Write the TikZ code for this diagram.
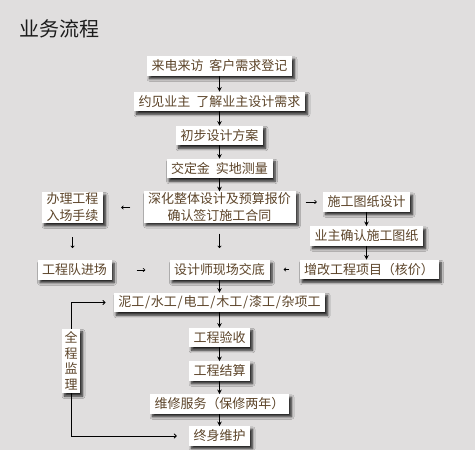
\documentclass[tikz,border=0pt]{standalone}
\usepackage{fontspec}
\setmainfont{Noto Sans CJK SC}
\usetikzlibrary{arrows.meta,shadows.blur}
\definecolor{bgc}{HTML}{E0DEDE}
\definecolor{txtc}{HTML}{5C4429}
\definecolor{ttlc}{HTML}{1C1C1C}
\newcommand{\wgap}{\hspace{6pt}}
\newcommand{\wsl}{\kern0.8pt/\kern0.8pt}
\tikzset{
  box/.style={fill=white, text=txtc, font=\fontsize{13}{17}\selectfont,
    inner xsep=4.5pt, inner ysep=2pt, minimum height=19.5pt, align=center,
    blur shadow={shadow xshift=2.5pt, shadow yshift=-3pt, shadow blur steps=6, shadow blur radius=2.5pt, shadow opacity=85}},
  flow/.style={draw=black, line width=0.9pt, -{Stealth[length=4.5pt,width=4.5pt]}},
  glyph/.style={draw=black, line width=0.6pt, -{To[length=2.5pt,width=4pt]}},
  side/.style={draw=black, line width=0.9pt, -{To[length=3pt,width=5pt]}}
}
\begin{document}
\begin{tikzpicture}[x=1pt,y=1pt]
\fill[bgc] (0,0) rectangle (475,-450);
\useasboundingbox (0,0) rectangle (475,-450);
\node[anchor=west, text=ttlc, font=\fontsize{20}{22}\selectfont, inner sep=0pt] (title) at (19,-29) {业务流程};

\node[box] (b1) at (219.5,-66) {来电来访\wgap 客户需求登记};
\node[box] (b2) at (219.5,-101.5) {约见业主\wgap 了解业主设计需求};
\node[box] (b3) at (219.5,-135.5) {初步设计方案};
\node[box] (b4) at (219.5,-168.5) {交定金\wgap 实地测量};
\node[box, inner ysep=1pt] (b5) at (219.5,-207) {深化整体设计及预算报价\\确认签订施工合同};
\node[box, inner ysep=1pt] (l1) at (72.5,-207.5) {办理工程\\入场手续};
\node[box] (r1) at (366.5,-202) {施工图纸设计};
\node[box] (r2) at (366.5,-236) {业主确认施工图纸};
\node[box] (r3) at (369,-269.5) {增改工程项目（核价）};
\node[box] (b6) at (219.5,-270) {设计师现场交底};
\node[box] (l2) at (74.5,-270) {工程队进场};
\node[box] (b7) at (219.5,-302.5) {泥工\wsl 水工\wsl 电工\wsl 木工\wsl 漆工\wsl 杂项工};
\node[box] (b8) at (219.5,-337.5) {工程验收};
\node[box] (b9) at (219.5,-371) {工程结算};
\node[box] (b10) at (219.5,-404) {维修服务（保修两年）};
\node[box] (b11) at (219.5,-436) {终身维护};

% full-process supervision bracket
\draw[side] (71,-361) |- ([xshift=-8pt]b7.west);
\draw[side] (71,-361) |- ([xshift=-12pt]b11.west);
\node[box, inner xsep=2.5pt, inner ysep=3pt, font=\fontsize{13}{15.5}\selectfont] (jl) at (71,-361) {全\\程\\监\\理};

% main column
\draw[flow] (b1.south) -- (b2.north);
\draw[flow] (b2.south) -- (b3.north);
\draw[flow] (b3.south) -- (b4.north);
\draw[flow] (b4.south) -- (b5.north);
\draw[glyph, shorten <=11pt, shorten >=12pt] (b5.south) -- (b6.north);
\draw[flow] (b6.south) -- (b7.north);
\draw[flow] (b7.south) -- (b8.north);
\draw[flow] (b8.south) -- (b9.north);
\draw[flow] (b9.south) -- (b10.north);
\draw[flow] (b10.south) -- (b11.north);

% left branch
\draw[glyph, shorten <=13pt, shorten >=18pt] (b5.west |- l1.east) -- (l1.east);
\draw[glyph, shorten <=14pt, shorten >=12pt] (l1.south) -- (l1.south |- l2.north);
\draw[glyph, shorten <=25pt, shorten >=24pt] (l2.east) -- (l2.east -| b6.west);

% right branch
\draw[glyph, shorten <=10pt, shorten >=6pt] (b5.east |- r1.west) -- (r1.west);
\draw[flow] (r1.south) -- (r2.north);
\draw[flow] (r2.south) -- (r2.south |- r3.north);
\draw[glyph, shorten <=10pt, shorten >=14pt] (r3.west) -- (r3.west -| b6.east);
\end{tikzpicture}
\end{document}
